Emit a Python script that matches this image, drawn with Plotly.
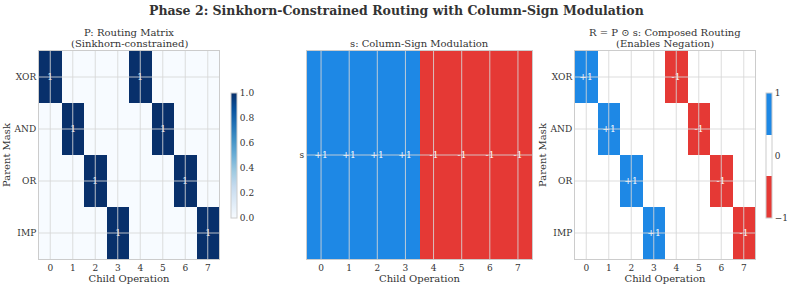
import plotly.graph_objects as go

children = [0, 1, 2, 3, 4, 5, 6, 7]
parents = ["XOR", "AND", "OR", "IMP"]
P = [
    [1, 0, 0, 0, 1, 0, 0, 0],
    [0, 1, 0, 0, 0, 1, 0, 0],
    [0, 0, 1, 0, 0, 0, 1, 0],
    [0, 0, 0, 1, 0, 0, 0, 1],
]
s = [1, 1, 1, 1, -1, -1, -1, -1]
R = [[P[i][j] * s[j] for j in range(len(children))] for i in range(len(parents))]

FONT = "DejaVu Serif"
BLUE = "#1e88e5"
RED = "#e53935"
GRID = "rgba(215,215,215,0.85)"
SPINE = "#cccccc"

blues = [[0.0, "#f7fbff"], [0.125, "#deebf7"], [0.25, "#c6dbef"], [0.375, "#9ecae1"],
         [0.5, "#6baed6"], [0.625, "#4292c6"], [0.75, "#2171b5"], [0.875, "#08519c"],
         [1.0, "#08306b"]]
tri = [[0, RED], [1/3, RED], [1/3, "#ffffff"], [2/3, "#ffffff"], [2/3, BLUE], [1, BLUE]]

def fmt_sign(v):
    return "+1" if v > 0 else ("-1" if v < 0 else "")

W, H = 793, 288
def px(x): return x / W
def py(y): return 1 - y / H

fig = go.Figure()

# Panel 1
fig.add_trace(go.Heatmap(
    z=P, x=children, y=list(range(len(parents))), xaxis="x", yaxis="y",
    colorscale=blues, zmin=0, zmax=1,
    text=[["1" if v else "" for v in row] for row in P], texttemplate="%{text}",
    textfont=dict(color="white", size=9, family=FONT),
    colorbar=dict(x=px(231), xanchor="left", y=py(155.5), yanchor="middle",
                  len=125, lenmode="pixels", thickness=6, outlinewidth=1, outlinecolor=SPINE,
                  tickvals=[0, 0.2, 0.4, 0.6, 0.8, 1.0], ticktext=["0.0", "0.2", "0.4", "0.6", "0.8", "1.0"],
                  ticks="", tickfont=dict(family=FONT, size=9, color="#333"), xpad=0, ypad=0),
    hoverinfo="skip",
))

# Panel 2
fig.add_trace(go.Heatmap(
    z=[s], x=children, y=[0], xaxis="x2", yaxis="y2",
    colorscale=tri, zmin=-1, zmax=1, showscale=False,
    text=[[fmt_sign(v) for v in s]], texttemplate="%{text}",
    textfont=dict(color="white", size=9, family=FONT), hoverinfo="skip",
))

# Panel 3
fig.add_trace(go.Heatmap(
    z=R, x=children, y=list(range(len(parents))), xaxis="x3", yaxis="y3",
    colorscale=tri, zmin=-1, zmax=1,
    text=[[fmt_sign(v) for v in row] for row in R], texttemplate="%{text}",
    textfont=dict(color="white", size=9, family=FONT),
    colorbar=dict(x=px(766), xanchor="left", y=py(155.5), yanchor="middle",
                  len=125, lenmode="pixels", thickness=6, outlinewidth=1, outlinecolor=SPINE,
                  tickvals=[-1, 0, 1], ticktext=["\u22121", "0", "1"],
                  ticks="", tickfont=dict(family=FONT, size=9, color="#333"), xpad=0, ypad=0),
    hoverinfo="skip",
))

domains = {"": [px(39), px(219)], "2": [px(307), px(532)], "3": [px(575), px(755)]}
ydom = [py(259), py(51)]
axfont = dict(family=FONT, size=9, color="#333")
layout = dict(width=W, height=H, margin=dict(l=0, r=0, t=0, b=0, autoexpand=False),
              paper_bgcolor="white", plot_bgcolor="white", font=dict(family=FONT, color="#333"))
shapes = []
for k, dom in domains.items():
    nrows = 1 if k == "2" else len(parents)
    layout["xaxis" + k] = dict(domain=dom, anchor="y" + k, range=[-0.5, len(children) - 0.5],
                               tickvals=children, ticktext=[str(c) for c in children], tickfont=axfont,
                               showgrid=False, zeroline=False, showline=True, mirror=True, automargin=False,
                               linecolor=SPINE, linewidth=1, ticks="", ticklen=0,
                               title=dict(text="Child Operation", font=dict(family=FONT, size=10, color="#333"),
                                          standoff=2))
    if k == "2":
        yt = dict(tickvals=[0], ticktext=["s"], range=[-0.5, 0.5])
    else:
        yt = dict(tickvals=list(range(len(parents))), ticktext=parents, range=[len(parents) - 0.5, -0.5])
    layout["yaxis" + k] = dict(domain=ydom, anchor="x" + k, tickfont=axfont, automargin=False,
                               showgrid=False, zeroline=False, showline=True, mirror=True,
                               linecolor=SPINE, linewidth=1, ticks="", ticklen=0, **yt)
    if k != "2":
        layout["yaxis" + k]["title"] = dict(text="Parent Mask", font=dict(family=FONT, size=10, color="#333"),
                                            standoff=1)
    yr = yt["range"]
    for c in children:
        shapes.append(dict(type="line", xref="x" + k, yref="y" + k, x0=c, x1=c, y0=yr[0], y1=yr[1],
                           line=dict(color=GRID, width=1), layer="above"))
    for r in range(nrows):
        shapes.append(dict(type="line", xref="x" + k, yref="y" + k, x0=-0.5, x1=len(children) - 0.5,
                           y0=r, y1=r, line=dict(color=GRID, width=1), layer="above"))
layout["shapes"] = shapes

ann = []
title_lines = [("P: Routing Matrix", 129, 32), ("(Sinkhorn-constrained)", 129, 43),
               ("s: Column-Sign Modulation", 419.5, 43),
               ("R = P \u2299 s: Composed Routing", 665, 32), ("(Enables Negation)", 665, 43)]
for t, xx, yy in title_lines:
    ann.append(dict(text=t, x=px(xx), y=py(yy), xref="paper", yref="paper", xanchor="center",
                    yanchor="middle", showarrow=False, font=dict(family=FONT, size=10, color="#333")))
ann.append(dict(text="<b>Phase 2: Sinkhorn-Constrained Routing with Column-Sign Modulation</b>",
                x=px(396), y=py(11), xref="paper", yref="paper", xanchor="center", yanchor="middle",
                showarrow=False, font=dict(family=FONT, size=12.5, color="#333")))
layout["annotations"] = ann
fig.update_layout(**layout)
fig.write_html("out.html", config={"displayModeBar": False},
               post_script="document.body.style.margin='0';document.body.style.overflow='hidden';")
